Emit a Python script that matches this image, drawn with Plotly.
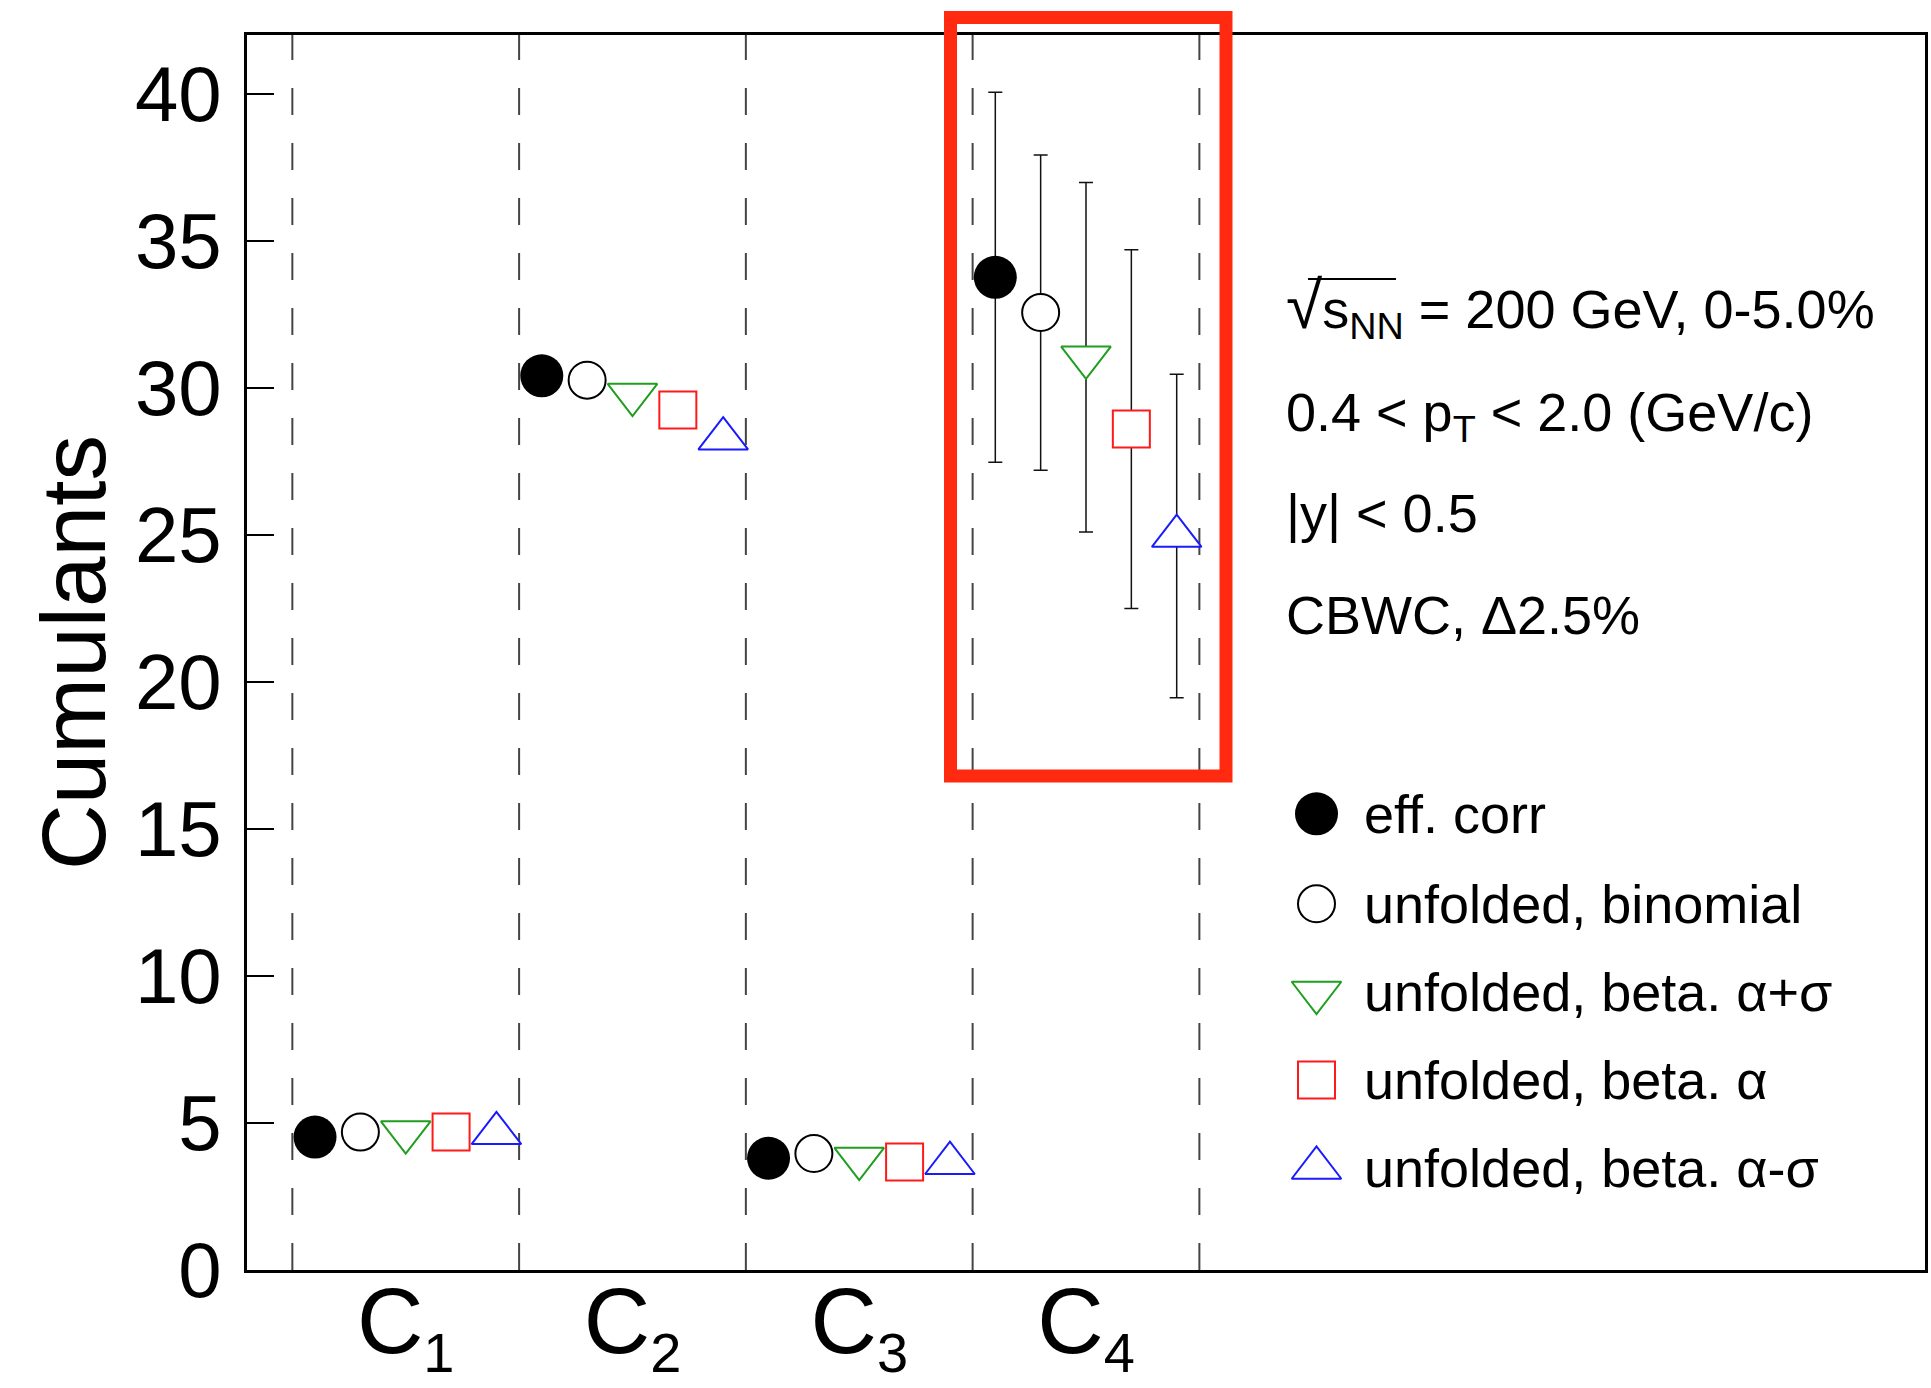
import plotly.graph_objects as go

# ---------------- data ----------------
categories = ["C<sub><span style=\"font-size:56px\">1</span></sub>",
              "C<sub><span style=\"font-size:56px\">2</span></sub>",
              "C<sub><span style=\"font-size:56px\">3</span></sub>",
              "C<sub><span style=\"font-size:56px\">4</span></sub>"]
series_names = ["eff. corr", "unfolded, binomial", "unfolded, beta. α+σ",
                "unfolded, beta. α", "unfolded, beta. α-σ"]

eff_corr       = [4.52, 30.41, 3.80, 33.76]
unf_binomial   = [4.69, 30.26, 3.96, 32.56]
unf_beta_plus  = [4.69, 29.77, 3.79, 31.04]
unf_beta       = [4.69, 29.25, 3.67, 28.60]
unf_beta_minus = [4.65, 28.27, 3.63, 24.96]

err_eff_corr       = [None, None, None, 6.29]
err_unf_binomial   = [None, None, None, 5.36]
err_unf_beta_plus  = [None, None, None, 5.94]
err_unf_beta       = [None, None, None, 6.10]
err_unf_beta_minus = [None, None, None, 5.50]

y_ticks = [0, 5, 10, 15, 20, 25, 30, 35, 40]

info_lines = [
    "<span style=\"font-size:66px\">√</span>s<sub>NN</sub> = 200 GeV, 0-5.0%",
    "0.4 < p<sub>T</sub> < 2.0 (GeV/c)",
    "|y| < 0.5",
    "CBWC, Δ2.5%",
]

values = [eff_corr, unf_binomial, unf_beta_plus, unf_beta, unf_beta_minus]
errors = [err_eff_corr, err_unf_binomial, err_unf_beta_plus, err_unf_beta, err_unf_beta_minus]

# ---------------- styles ----------------
styles = [
    dict(symbol="circle", size=43, color="black", line=dict(color="black", width=0)),
    dict(symbol="circle", size=37, color="white", line=dict(color="black", width=2)),
    dict(symbol="triangle-down", size=43, color="white", line=dict(color="#1f9e1f", width=2)),
    dict(symbol="square", size=37, color="white", line=dict(color="#ff1a1a", width=2)),
    dict(symbol="triangle-up", size=43, color="white", line=dict(color="#1a1aff", width=2)),
]
offsets = [-0.4, -0.2, 0.0, 0.2, 0.4]

FONT = "Liberation Sans, Arial, Helvetica, sans-serif"
W, H = 1931, 1388
ML, MR, MT, MB = 247, 6, 35, 118
PW, PH = W - ML - MR, H - MT - MB


def px_x(px):
    return (px - ML) / PW


def px_y(py):
    return (H - MB - py) / PH


fig = go.Figure()

group_pos = list(range(1, len(categories) + 1))

for name, vals, errs, st, off in zip(series_names, values, errors, styles, offsets):
    fig.add_trace(go.Scatter(
        x=[g + off for g in group_pos], y=vals, mode="markers", name=name,
        marker=st, showlegend=False,
        error_y=dict(type="data", array=errs, visible=True, color="#111111",
                     thickness=1.5, width=7),
    ))

# manual legend (markers on an auxiliary paper-like axis)
leg_x_px = 1316.5
leg_y_px = [813.8, 903.8, 992.5, 1080.0, 1168.0]
leg_text_x_px = 1362
for name, st, ly in zip(series_names, styles, leg_y_px):
    fig.add_trace(go.Scatter(
        x=[px_x(leg_x_px)], y=[px_y(ly)], mode="markers", marker=st,
        xaxis="x2", yaxis="y2", showlegend=False, hoverinfo="skip",
    ))
    fig.add_annotation(x=px_x(leg_text_x_px), y=px_y(ly), xref="paper", yref="paper",
                       text=name, showarrow=False, xanchor="left", yanchor="middle",
                       font=dict(size=54, color="black", family=FONT))

# info text
info_y_px = [307, 416, 513, 615]
for t, iy in zip(info_lines, info_y_px):
    fig.add_annotation(x=px_x(1284), y=px_y(iy), xref="paper", yref="paper",
                       text=t, showarrow=False, xanchor="left", yanchor="middle",
                       font=dict(size=54, color="black", family=FONT))

# overline of the square root
fig.add_shape(type="line", xref="paper", yref="paper",
              x0=px_x(1308), x1=px_x(1396), y0=px_y(279), y1=px_y(279),
              line=dict(color="black", width=2))

# dashed group separators
for b in [g - 0.5 for g in group_pos] + [group_pos[-1] + 0.5]:
    fig.add_shape(type="line", x0=b, x1=b, y0=0, y1=1, xref="x", yref="paper",
                  line=dict(color="#444444", width=2, dash="27px,28px"), layer="below")

# red highlight box
fig.add_shape(type="rect", xref="paper", yref="paper",
              x0=px_x(950.5), x1=px_x(1226), y0=px_y(776), y1=px_y(17.6),
              line=dict(color="#ff2a10", width=13), fillcolor="rgba(0,0,0,0)")

fig.update_layout(
    width=W, height=H,
    margin=dict(l=ML, r=MR, t=MT, b=MB, autoexpand=False),
    paper_bgcolor="white", plot_bgcolor="white",
    font=dict(family=FONT, color="black"),
    showlegend=False,
    xaxis=dict(range=[0.3, 7.7], tickvals=group_pos, ticktext=categories, ticks="",
               showgrid=False, zeroline=False, showline=True, linecolor="black",
               linewidth=2.5, mirror=True, tickfont=dict(size=92, family=FONT),
               ticklabelstandoff=-30),
    yaxis=dict(range=[0, 42], tickvals=y_ticks, ticks="inside", ticklen=27, tickwidth=2,
               tickcolor="black", showgrid=False, zeroline=False, showline=True,
               linecolor="black", linewidth=2.5, mirror=True,
               tickfont=dict(size=78, family=FONT), ticklabelstandoff=7,
               title=dict(text="Cumulants", font=dict(size=91, family=FONT), standoff=0)),
    xaxis2=dict(overlaying="x", range=[0, 1], visible=False, anchor="y2"),
    yaxis2=dict(overlaying="y", range=[0, 1], visible=False, anchor="x2"),
)

fig.write_html("out.html")
